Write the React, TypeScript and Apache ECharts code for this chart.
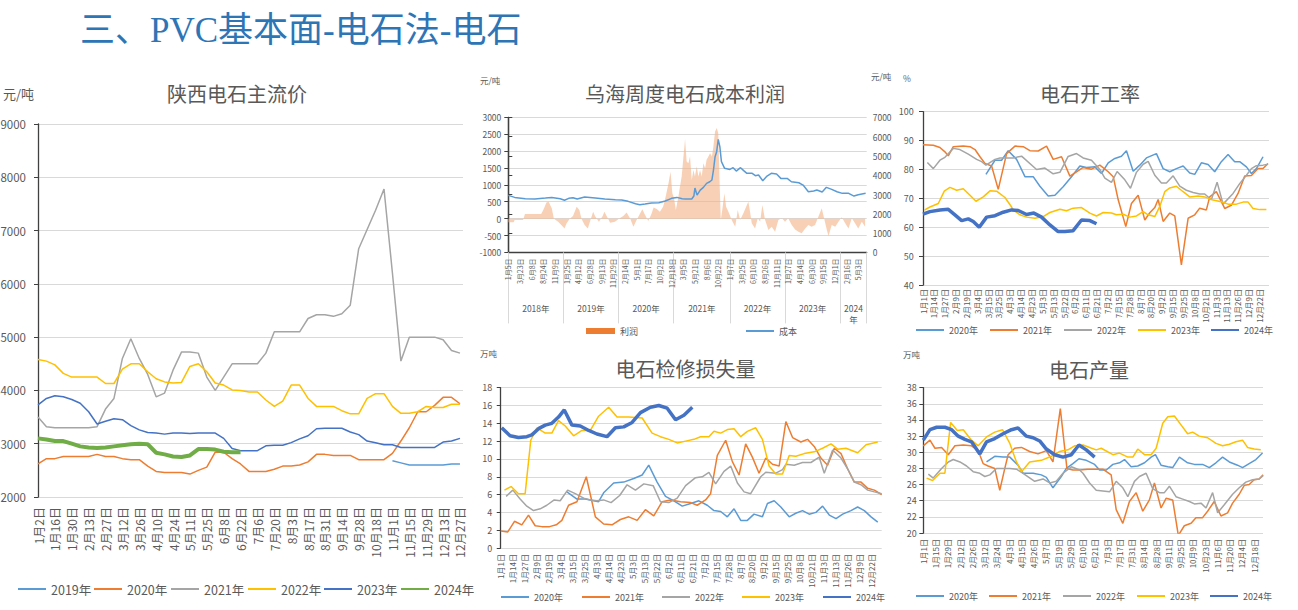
import React, { useEffect, useRef } from 'react';
import * as echarts from 'echarts';

const FONT = "'Noto Sans CJK SC', 'Noto Sans', sans-serif";
const TXT = '#595959';
const GRIDC = '#d9d9d9';
const AXC = '#404040';

const C_LBLUE = '#5b9bd5';
const C_ORANGE = '#ed7d31';
const C_GRAY = '#a5a5a5';
const C_YELLOW = '#ffc000';
const C_BLUE = '#4472c4';
const C_GREEN = '#70ad47';

// ---------- Panel 1: 陕西电石主流价 (values every half label step) ----------
const shaanxiLabels = ['1月2日','1月16日','1月30日','2月13日','2月27日','3月12日','3月26日','4月10日','4月24日','5月11日','5月25日','6月8日','6月22日','7月6日','7月20日','8月3日','8月17日','8月31日','9月14日','9月28日','10月18日','11月1日','11月15日','11月29日','12月13日','12月27日'];
const sx2019 = [null,null,null,null,null,null,null,null,null,null,null,null,null,null,null,null,null,null,null,null,null,null,null,null,null,null,null,null,null,null,null,null,null,null,null,null,null,null,null,null,null,null,2680,2640,2600,2600,2600,2600,2600,2620,2620];
const sx2020 = [2620,2720,2720,2760,2760,2760,2760,2800,2760,2760,2720,2700,2700,2580,2480,2460,2460,2460,2430,2500,2560,2840,2840,2720,2620,2480,2480,2480,2520,2580,2580,2600,2660,2800,2800,2780,2780,2780,2700,2700,2700,2700,2820,3050,3300,3600,3600,3720,3870,3870,3750];
const sx2021 = [3500,3320,3300,3300,3300,3300,3300,3320,3650,3850,4600,4970,4600,4300,3880,3950,4380,4720,4720,4700,4250,4000,4250,4500,4500,4500,4500,4700,5100,5100,5100,5100,5350,5420,5420,5390,5440,5600,6660,7020,7380,7780,6200,4550,5000,5000,5000,5000,4950,4750,4700];
const sx2022 = [4580,4550,4480,4320,4250,4250,4250,4250,4130,4130,4400,4500,4500,4350,4220,4160,4140,4150,4450,4500,4350,4140,4100,4010,4000,3970,3970,3820,3700,3800,4100,4100,3850,3700,3700,3700,3620,3560,3560,3850,3940,3940,3700,3570,3570,3600,3700,3680,3680,3740,3740];
const sx2023 = [3730,3850,3900,3880,3830,3760,3600,3370,3420,3470,3450,3340,3260,3210,3200,3180,3200,3200,3190,3200,3200,3200,3100,2910,2870,2870,2870,2960,2970,2970,3020,3090,3150,3280,3290,3290,3290,3220,3170,3050,3020,2980,2980,2930,2930,2930,2930,2930,3030,3050,3100];
const sx2024 = [3100,3080,3050,3050,3000,2950,2930,2920,2930,2950,2970,2990,3000,2990,2830,2800,2760,2750,2780,2900,2900,2890,2850,2840,2840];

// ---------- Panel 2: 乌海周度电石成本利润 (x = week index from 2018-01-05) ----------
const wuhaiLabels = ['1月5日','3月23日','6月8日','8月24日','11月9日','1月25日','4月12日','6月28日','9月13日','11月29日','2月14日','5月1日','7月17日','10月2日','12月18日','3月5日','5月21日','8月6日','10月22日','1月7日','3月25日','6月10日','8月26日','11月11日','1月27日','4月14日','6月30日','9月15日','12月1日','2月16日','5月3日'];
const wuhaiYears = ['2018年','2019年','2020年','2021年','2022年','2023年','2024\n年'];
const wuhaiYearStart = [0, 52, 104, 156, 209, 261, 313];
const wuhaiLastWeek = 338;
const WEEKS_PER_LABEL = 11;
const wuhaiCost = [[0,2955],[6,2850],[16,2780],[25,2765],[35,2815],[41,2850],[49,2780],[53,2700],[57,2800],[61,2835],[65,2765],[72,2870],[82,2815],[91,2765],[101,2730],[107,2710],[113,2645],[120,2520],[124,2470],[129,2505],[135,2560],[142,2575],[148,2660],[154,2800],[159,2850],[164,2780],[167,2765],[173,2765],[175,2920],[176,3335],[178,2970],[181,3230],[184,3370],[187,3575],[190,3660],[192,3750],[193.5,4270],[195,4960],[196.5,5220],[198,5860],[199.5,5480],[201,4700],[204,4355],[209,4300],[212,4390],[215,4215],[219,4390],[222,4235],[225,4095],[230,4095],[233,3975],[236,4010],[240,3715],[244,3955],[248,4095],[253,4060],[257,3835],[263,3835],[267,3660],[274,3610],[278,3490],[283,3145],[288,3180],[291,3230],[296,3130],[300,3370],[305,3265],[310,3145],[315,3060],[321,3060],[326,2920],[330,2990],[337,3060]];
const wuhaiProfit = [[0,-110],[5,-110],[6,-40],[14,-40],[15.7,140],[31,140],[33,257],[36,474],[38,500],[41,306],[43,0],[47,-90],[50,-190],[53,-290],[55,-140],[58,0],[61,80],[64.5,355],[67,257],[69,0],[72,-190],[75,-290],[77,-90],[80,207],[82,60],[85.5,-90],[89,80],[90.6,207],[93,60],[96,-120],[100.6,-90],[105,10],[108.5,80],[111.6,178],[115,0],[118,-240],[121,-40],[124,140],[126.4,277],[129,110],[132,-70],[135,140],[137,326],[140,287],[143,207],[146,355],[148.4,650],[151,1030],[153,1390],[154.7,750],[156.3,600],[158,257],[160.4,650],[163.5,1245],[166.7,2350],[168.2,1690],[169.8,1640],[171.4,1840],[173,1145],[174.6,1440],[176,1245],[177.7,1540],[179.3,1245],[180.8,1440],[182.4,1245],[184,1640],[185.6,1490],[187,1740],[188.7,1840],[190.3,1935],[192,1840],[193.4,2130],[195,2580],[196.6,2680],[198,2530],[199.1,1245],[200.4,-40],[202,306],[203.8,750],[205.4,355],[207.6,207],[210.7,-40],[214,-240],[216.4,257],[218.6,-40],[221.7,158],[225,405],[226.4,500],[228,207],[229.6,-140],[232.7,-290],[235.3,10],[237.5,-90],[239.6,405],[242.2,-40],[245.3,-340],[248.4,-240],[251.6,-385],[254.7,-40],[258,10],[261,-90],[264,10],[267.3,-190],[270.5,-320],[273.6,-385],[276.7,-435],[280,-290],[283,-190],[286,-240],[289.3,-190],[292.5,60],[295.6,306],[298.2,-40],[300.4,-340],[302,-515],[305,-190],[308.3,-240],[311.4,-90],[314.5,40],[317.7,-140],[320.8,-290],[324,10],[327,-140],[330,-290],[333.4,-90],[336.5,-240]];

// ---------- Panel 3: 电石开工率 (x = label position) ----------
const weeklyLabels = ['1月1日','1月14日','1月27日','2月9日','2月19日','3月4日','3月15日','3月25日','4月3日','4月14日','4月23日','5月3日','5月13日','5月22日','6月2日','6月11日','6月21日','7月2日','7月15日','7月28日','8月7日','8月20日','9月2日','9月15日','9月25日','10月8日','10月21日','11月3日','11月13日','11月26日','12月9日','12月22日'];
const rate2020 = [[5.8,78.3],[6.63,83.2],[7.24,83.2],[7.85,86.5],[8.62,83.5],[9.39,77.5],[10.15,77.5],[10.77,74.2],[11.53,70.8],[12.15,71.1],[12.91,74],[13.68,77.5],[14.45,81.2],[15.06,80.7],[15.83,80.9],[16.44,78.6],[17.06,82.3],[17.67,83.8],[18.28,84.6],[18.74,86.5],[19.36,79.4],[19.97,81.5],[20.58,84],[21.5,85.5],[22.12,80.3],[22.73,79.2],[23.34,80.3],[23.96,81.2],[24.57,78.8],[25.03,78.3],[25.64,82.3],[26.26,81.7],[26.87,79.2],[27.48,82.7],[28.1,85.2],[28.71,82.7],[29.17,82.7],[29.79,80.9],[30.25,78.6],[30.71,80.3],[31.32,84.4]];
const rate2021 = [[0,88.6],[0.95,88.4],[1.56,87.6],[2.02,86.1],[2.33,84.7],[2.79,87.9],[3.71,88.1],[4.33,87.9],[4.79,86.9],[5.25,84.4],[5.71,82.1],[6.32,81.2],[6.93,73.1],[7.7,85.5],[8.47,88.1],[9.23,87.9],[9.85,86.5],[10.61,86.4],[11.38,88.1],[11.99,83.5],[12.76,84.4],[13.53,77.7],[14.14,79.2],[14.75,80.7],[15.52,80.1],[16.29,81.5],[17.06,79.2],[17.52,77.5],[17.98,69.5],[18.68,60.2],[19.2,68.2],[19.82,71.1],[20.43,62.5],[20.89,65],[21.35,66.8],[21.66,69.6],[22.12,62],[22.73,64.9],[23.19,63.9],[23.8,47],[24.42,63.1],[25.03,64.3],[25.49,66.6],[26.1,66],[26.41,70.5],[27.02,72.3],[27.79,66.5],[28.4,67.6],[29.02,71.7],[29.63,77.7],[30.25,77.9],[30.86,80.3],[31.32,80.3],[31.78,82.1]];
const rate2022 = [[0.4,82.4],[0.95,80.3],[1.56,83.2],[2.02,84.2],[2.79,87.3],[3.4,86.9],[4.17,85.3],[4.94,83.5],[5.4,82.7],[5.8,81.5],[6.63,83.5],[7.09,84],[8.31,84],[9.08,84.6],[10.46,80],[11.23,80.5],[11.99,78.5],[12.61,79],[13.37,84.5],[14.14,85.5],[14.75,84],[15.52,83.2],[16.29,80],[16.75,77],[17.36,75.5],[17.88,79.3],[18.59,76.4],[19.11,73.5],[19.66,79],[20.28,81.8],[20.74,82.8],[21.35,78],[21.96,75.3],[22.42,75.3],[23.04,77.8],[23.65,74.2],[24.26,72.8],[24.88,72],[25.49,71.5],[25.95,71.5],[26.56,69.5],[27.09,75.6],[27.64,68],[28.56,71.7],[29.17,75.1],[29.79,78],[30.25,80.3],[30.71,81.3],[31.32,81.5],[31.78,81.8]];
const rate2023 = [[0.12,65.9],[0.64,67],[1.41,68.2],[1.96,72.5],[2.48,73.8],[3.1,72.8],[3.71,73.3],[4.33,71.1],[4.88,69],[5.55,70.5],[6.17,72.6],[6.78,72.5],[7.55,70.3],[8.16,67],[8.31,66],[8.93,64.3],[9.54,63.5],[10.31,63.1],[11.07,63.7],[11.69,65.1],[12.61,66.2],[13.22,65.7],[13.83,66.6],[14.6,66.8],[15.37,64.9],[15.98,63.9],[16.6,65.1],[17.36,64.9],[17.82,64.3],[18.44,64.5],[19.05,63.5],[19.66,63.9],[20.28,65.4],[20.74,64.3],[21.35,63.7],[21.81,67.2],[22.27,72.3],[22.73,73.6],[23.34,74.2],[23.96,72.3],[24.57,70.5],[25.34,70.8],[25.95,70.5],[26.72,69.4],[27.48,68.8],[28.1,68],[28.87,68],[29.48,68.7],[29.94,68.7],[30.4,66.5],[31.01,66.1],[31.63,66.1]];
const rate2024 = [[0,64.5],[0.64,65.4],[1.56,66],[2.33,66.2],[2.94,64.3],[3.56,62.3],[4.17,62.9],[4.63,62],[5.18,60],[5.86,63.5],[6.63,64],[7.39,65.2],[8.16,66],[8.77,65.8],[9.54,64.4],[10.21,64.9],[10.92,63.5],[11.69,60.8],[12.45,58.5],[13.07,58.5],[13.83,58.8],[14.6,62.5],[15.37,62.3],[15.98,61.2]];

// ---------- Panel 4: 电石检修损失量 ----------
const loss2020 = [[5.53,6.3],[6.37,5.5],[7.07,5.5],[7.77,5.3],[8.18,5.2],[8.6,6.2],[9.44,7.3],[10.28,7.4],[11.12,7.8],[11.82,8.2],[12.37,9.3],[13.07,7.4],[13.77,5.8],[14.47,5.3],[15.17,4.7],[15.87,5.0],[16.56,5.3],[17.26,4.8],[17.82,4.2],[18.38,4.1],[18.94,3.5],[19.5,4.4],[20.06,3.1],[20.61,3.1],[21.17,3.8],[21.87,3.5],[22.29,5.0],[22.85,5.3],[23.41,4.6],[24.11,3.5],[24.66,3.9],[25.22,4.2],[25.78,3.8],[26.34,4.0],[26.9,4.7],[27.46,3.7],[28.02,3.3],[28.58,3.8],[29.27,4.2],[29.83,4.6],[30.39,4.2],[30.95,3.5],[31.51,2.9]];
const loss2021 = [[0,1.9],[0.59,1.8],[1.15,3.0],[1.76,2.6],[2.32,3.7],[2.88,2.5],[3.44,2.4],[4.08,2.4],[4.64,2.6],[5.11,3.1],[5.67,4.8],[6.37,5.2],[7.15,8.0],[7.91,3.5],[8.6,2.7],[9.3,2.6],[10,3.2],[10.7,3.5],[11.4,3.1],[12.09,4.3],[12.79,3.6],[13.49,5.2],[14.19,5.4],[15.03,5.2],[15.87,5.1],[16.42,4.8],[17.12,5.4],[17.54,6.1],[18.1,10.4],[18.8,12.1],[19.36,9.7],[19.92,8.2],[20.47,11.7],[21.03,10.2],[21.59,8.4],[22.15,10.1],[22.71,9.4],[23.27,9.2],[23.83,14.2],[24.39,12.4],[25.08,11.9],[25.64,12.2],[26.2,11.4],[26.76,10.1],[27.32,9.3],[27.88,11.2],[28.44,10.6],[28.99,8.9],[29.55,7.4],[30.11,7.4],[30.67,6.7],[31.23,6.5],[31.84,6.0]];
const loss2022 = [[0.45,5.8],[1.01,6.5],[1.62,5.5],[2.18,4.7],[2.74,4.2],[3.3,4.4],[3.85,4.8],[4.47,5.4],[4.97,5.3],[5.59,6.5],[6.23,6.1],[6.93,5.6],[7.49,5.4],[8.04,5.3],[8.6,5.4],[9.22,5.1],[9.94,5.9],[10.56,7.1],[11.26,6.5],[11.96,7.2],[12.74,7.0],[13.35,5.2],[14.05,5.1],[14.75,5.6],[15.45,7.0],[16.28,7.9],[16.84,8.0],[17.4,8.5],[17.96,7.2],[18.66,8.6],[19.22,9.2],[19.78,7.3],[20.34,6.3],[20.89,6.1],[21.73,8.0],[22.15,8.5],[22.99,8.4],[23.55,8.8],[23.83,9.4],[24.53,9.3],[25.22,9.6],[25.92,9.6],[26.62,10.2],[27.04,8.4],[27.74,11.0],[28.44,10.1],[28.99,8.9],[29.55,7.4],[30.11,7.1],[30.67,6.5],[31.23,6.3],[31.84,6.1]];
const loss2023 = [[0.31,6.5],[0.87,6.9],[1.48,6.1],[2.04,6.1],[2.51,12.1],[3.02,13.5],[3.72,12.9],[4.27,12.9],[4.83,14.3],[5.39,13.7],[6.09,12.6],[6.79,13.2],[7.49,13.2],[8.18,14.8],[9.02,15.8],[9.72,14.7],[10.7,14.7],[11.82,14.6],[12.65,12.9],[13.35,12.5],[14.05,12.2],[14.75,11.8],[15.45,12.0],[16.15,12.2],[16.7,12.5],[17.4,12.5],[17.82,13.1],[18.38,12.9],[18.94,13.3],[19.5,13.4],[20.06,12.5],[20.61,13.1],[21.31,13.5],[21.87,12.2],[22.43,9.2],[22.99,8.3],[23.55,8.3],[24.11,10.4],[24.66,10.3],[25.36,10.6],[26.2,10.8],[26.9,11.2],[27.6,11.7],[28.16,11.1],[28.85,11.2],[29.83,10.7],[30.53,11.6],[31.51,11.9]];
const loss2024 = [[0.08,13.5],[0.78,12.6],[1.48,12.4],[2.18,12.5],[2.6,12.7],[3.16,13.4],[3.72,13.8],[4.27,14.0],[4.83,14.7],[5.31,15.5],[5.95,13.8],[6.65,13.7],[7.35,13.2],[8.04,12.8],[8.88,12.5],[9.58,13.5],[10.28,13.6],[10.98,14.1],[11.68,15.2],[12.51,15.8],[13.21,16.0],[13.91,15.7],[14.61,14.4],[15.31,14.9],[16.01,15.8]];

// ---------- Panel 5: 电石产量 ----------
const outputLabels = ['1月1日','1月15日','1月29日','2月12日','2月26日','3月12日','3月24日','4月3日','4月15日','4月26日','5月7日','5月19日','5月29日','6月10日','6月21日','7月3日','7月17日','7月31日','8月14日','8月28日','9月11日','9月25日','10月9日','10月23日','11月6日','11月20日','12月4日','12月18日'];
const out2020 = [[5.16,28.8],[5.83,29.5],[6.51,29.4],[7.06,29.4],[7.73,28.4],[8.14,27.4],[8.96,27.4],[9.63,27.2],[10.04,26.9],[10.58,25.6],[11.26,27.0],[11.67,28.0],[12.21,28.6],[12.7,29.2],[13.3,29.0],[13.98,28.5],[14.38,27.8],[14.93,27.8],[15.47,28.5],[16.01,28.7],[16.42,29.1],[16.96,28.2],[17.5,28.3],[18.05,28.7],[18.59,29.4],[18.94,29.7],[19.4,28.4],[19.95,28.2],[20.35,28.1],[20.9,29.4],[21.57,28.7],[22.12,28.5],[22.79,28.5],[23.34,28.1],[23.88,28.7],[24.42,29.4],[24.97,28.8],[25.64,28.4],[26.05,28.1],[26.59,28.6],[27.14,29.1],[27.68,29.9]];
const out2021 = [[0,30.8],[0.54,31.5],[0.95,30.5],[1.49,30.6],[2.04,29.7],[2.58,30.8],[3.26,30.9],[3.93,30.8],[4.48,30.2],[4.88,28.6],[5.29,28.3],[5.83,28.0],[6.24,25.3],[6.65,28.0],[6.92,29.7],[7.46,30.5],[8.01,30.6],[8.68,30.1],[9.36,29.8],[10.04,30.2],[10.58,28.8],[11.18,35.4],[11.72,28.0],[12.21,27.8],[12.75,27.8],[13.43,27.9],[14.11,27.9],[14.65,27.9],[15.33,27.2],[15.74,22.9],[16.28,21.2],[16.82,23.9],[17.37,25.0],[17.91,22.7],[18.45,24.1],[18.86,26.2],[19.4,23.1],[19.81,24.3],[20.35,24.1],[20.81,19.7],[21.3,20.9],[21.85,21.2],[22.25,21.9],[22.79,21.9],[23.2,22.7],[23.74,23.9],[24.29,22.1],[24.83,22.5],[25.24,23.7],[25.78,24.8],[26.19,25.9],[26.59,26.0],[27.0,26.6],[27.41,26.7],[27.73,27.2]];
const out2022 = [[0.41,27.3],[0.81,26.8],[1.49,28.0],[2.04,28.8],[2.44,29.1],[2.99,28.8],[3.53,28.3],[4.07,27.6],[4.61,27.4],[5.02,27.0],[5.43,27.2],[5.97,28.0],[7.06,28.0],[7.6,27.9],[8.14,27.4],[9.09,26.4],[9.77,26.7],[10.31,26.2],[10.85,26.4],[11.4,27.4],[12.08,28.2],[12.75,27.8],[13.03,27.4],[13.57,26.2],[14.11,25.3],[14.65,25.2],[15.2,25.1],[15.74,26.4],[16.28,25.6],[16.69,24.5],[17.23,26.4],[17.64,27.0],[18.18,27.4],[18.72,25.5],[19.27,25.0],[19.67,25.0],[20.08,25.8],[20.62,24.5],[21.17,24.2],[21.71,23.9],[22.12,23.6],[22.66,23.7],[23.07,23.1],[23.61,25.0],[24.02,22.5],[24.56,23.5],[25.24,24.8],[25.78,25.6],[26.32,26.3],[26.87,26.6],[27.41,26.7],[27.73,27.1]];
const out2023 = [[0.27,26.8],[0.76,26.5],[1.36,27.4],[1.76,27.4],[2.23,33.7],[2.77,32.7],[3.26,32.8],[3.93,31.5],[4.48,30.8],[5.16,31.9],[5.83,32.5],[6.46,32.8],[7.06,31.1],[7.6,28.8],[8.01,27.6],[8.68,28.8],[9.63,29.0],[10.45,29.5],[11.13,30.1],[11.8,30.3],[12.35,30.8],[13.03,30.9],[13.57,30.6],[14.11,30.3],[14.52,30.5],[15.47,29.7],[16.01,29.9],[16.69,29.4],[17.1,29.4],[17.5,30.4],[18.05,29.7],[18.59,29.7],[19.0,30.5],[19.54,33.6],[19.95,34.4],[20.49,34.5],[21.03,33.4],[21.57,32.3],[21.98,32.5],[22.52,32.0],[23.2,31.8],[23.88,31.1],[24.42,30.8],[24.97,31.0],[25.51,31.3],[26.05,31.5],[26.46,30.6],[27.0,30.4],[27.54,30.3]];
const out2024 = [[0,31.5],[0.54,32.8],[1.09,33.1],[1.76,33.1],[2.31,32.8],[2.85,32.0],[3.39,31.6],[3.93,31.3],[4.61,29.8],[5.16,31.3],[5.83,31.7],[6.51,32.3],[7.19,32.8],[7.73,33.0],[8.41,32.0],[8.96,31.8],[9.5,31.4],[10.04,30.4],[10.72,29.7],[11.4,29.4],[12.08,29.7],[12.7,30.9],[13.3,30.3],[13.98,29.4]];

const seriesYears5 = ['2020年','2021年','2022年','2023年','2024年'];
const seriesYears6 = ['2019年','2020年','2021年','2022年','2023年','2024年'];

function halfStep(arr: (number | null)[]) {
  const out: number[][] = [];
  arr.forEach((v, i) => { if (v != null) out.push([i / 2, v]); });
  return out;
}

function lineSeries(name: string, data: number[][], color: string, width: number, xi: number, yi: number) {
  return {
    type: 'line', name, data, xAxisIndex: xi, yAxisIndex: yi, symbol: 'none', showSymbol: false,
    lineStyle: { color, width }, itemStyle: { color }, animation: false,
  };
}

function stripName(n: string) { return n.split('|')[0]; }

function legendItem(name: string, left: number, cy: number, fontSize: number, extra: any = {}) {
  const lh = Math.round(fontSize * 1.4);
  return {
    data: [name], left, top: cy - lh / 2, padding: 0, itemWidth: 28, itemHeight: 10, itemGap: 0,
    selectedMode: false, formatter: stripName,
    itemStyle: { opacity: 0, color: 'transparent', borderColor: 'transparent', borderWidth: 0 },
    textStyle: { color: TXT, fontSize, fontFamily: FONT, lineHeight: lh },
    ...extra,
  };
}

function txt(text: string, x: number, y: number, size: number, align = 'left', color = TXT, family = FONT) {
  return {
    type: 'text', x, y, silent: true,
    style: { text, fill: color, fontSize: size, fontFamily: family, align, textAlign: align, verticalAlign: 'middle', textVerticalAlign: 'middle' },
  };
}

function yAx(grid: number, min: number, max: number, interval: number, fontSize: number, margin: number, extra: any = {}) {
  return {
    type: 'value', gridIndex: grid, min, max, interval,
    axisLine: { show: true, lineStyle: { color: AXC, width: 1.3 } },
    axisTick: { show: true, length: 4, lineStyle: { color: AXC } },
    splitLine: { show: true, lineStyle: { color: GRIDC, width: 1 } },
    axisLabel: { color: TXT, fontSize, margin, fontFamily: FONT, formatter: (v: number) => String(v) },
    ...extra,
  };
}

function xAx(grid: number, min: number, max: number, labels: string[], step: number, fontSize: number, margin: number, extra: any = {}) {
  const vals = labels.map((_, i) => i * step);
  return {
    type: 'value', gridIndex: grid, min, max,
    axisLine: { show: false, onZero: false },
    axisTick: { show: false },
    splitLine: { show: false },
    axisLabel: {
      customValues: vals, rotate: 90, color: TXT, fontSize, margin, fontFamily: FONT,
      formatter: (v: number) => labels[Math.round(v / step)] ?? '',
    },
    ...extra,
  };
}

export default function App() {
  const ref = useRef<HTMLDivElement>(null);
  useEffect(() => {
    if (!ref.current) return;
    const chart = echarts.init(ref.current, undefined, { renderer: 'svg' });

    const yearMid = wuhaiYearStart.map((s, i) => (s + (i + 1 < wuhaiYearStart.length ? wuhaiYearStart[i + 1] : wuhaiLastWeek)) / 2);

    const sxData = [sx2019, sx2020, sx2021, sx2022, sx2023, sx2024];
    const sxColors = [C_LBLUE, C_ORANGE, C_GRAY, C_YELLOW, C_BLUE, C_GREEN];
    const c5 = [C_LBLUE, C_ORANGE, C_GRAY, C_YELLOW, C_BLUE];
    const rateData = [rate2020, rate2021, rate2022, rate2023, rate2024];
    const lossData = [loss2020, loss2021, loss2022, loss2023, loss2024];
    const outData = [out2020, out2021, out2022, out2023, out2024];

    const series: any[] = [];
    seriesYears6.forEach((y, i) => series.push(lineSeries(y + '|a', halfStep(sxData[i]), sxColors[i], i === 5 ? 4 : 1.5, 0, 0)));
    series.push({
      type: 'line', name: '利润', data: wuhaiProfit, xAxisIndex: 1, yAxisIndex: 1, symbol: 'none', showSymbol: false,
      itemStyle: { color: C_ORANGE }, lineStyle: { width: 0, color: C_ORANGE },
      areaStyle: { color: '#f4b183', opacity: 0.6 },
    });
    series.push(lineSeries('成本', wuhaiCost, C_LBLUE, 1.5, 1, 2));
    seriesYears5.forEach((y, i) => series.push(lineSeries(y + '|c', rateData[i], c5[i], i === 4 ? 3.5 : 1.5, 3, 3)));
    seriesYears5.forEach((y, i) => series.push(lineSeries(y + '|d', lossData[i], c5[i], i === 4 ? 3.5 : 1.5, 4, 4)));
    seriesYears5.forEach((y, i) => series.push(lineSeries(y + '|e', outData[i], c5[i], i === 4 ? 3.5 : 1.5, 5, 5)));

    const legends: any[] = [];
    const leftL = [17, 93, 170, 247, 323, 400];
    seriesYears6.forEach((y, i) => legends.push(legendItem(y + '|a', leftL[i], 589, 12.5)));
    legends.push(legendItem('利润', 586, 331, 9, {
      data: [{ name: '利润', icon: 'rect', itemStyle: { color: C_ORANGE, opacity: 1 } }], itemWidth: 29, itemHeight: 6,
    }));
    legends.push(legendItem('成本', 745, 331, 9));
    const trL = [915, 989, 1063, 1137, 1210];
    seriesYears5.forEach((y, i) => legends.push(legendItem(y + '|c', trL[i], 330, 9)));
    const bmL = [500, 581, 661, 741, 822];
    seriesYears5.forEach((y, i) => legends.push(legendItem(y + '|d', bmL[i], 597, 9)));
    const brL = [915, 988, 1062, 1136, 1209];
    seriesYears5.forEach((y, i) => legends.push(legendItem(y + '|e', brL[i], 596, 9)));

    const option: any = {
      animation: false,
      textStyle: { fontFamily: FONT },
      grid: [
        { left: 38, top: 124, width: 425, height: 373, outerBoundsMode: 'none' },
        { left: 508.3, top: 117.3, width: 358.4, height: 135.1, outerBoundsMode: 'none' },
        { left: 921.7, top: 111.7, width: 347.3, height: 173.3, outerBoundsMode: 'none' },
        { left: 499.3, top: 387.7, width: 382.4, height: 160.3, outerBoundsMode: 'none' },
        { left: 922.7, top: 387.7, width: 340.3, height: 145.3, outerBoundsMode: 'none' },
      ],
      xAxis: [
        xAx(0, 0, 25.18, shaanxiLabels, 1, 12, 10),
        xAx(1, 0, wuhaiLastWeek, wuhaiLabels, WEEKS_PER_LABEL, 7, 6, {
          axisLine: { show: true, onZero: false, lineStyle: { color: AXC, width: 1.3 } },
        }),
        {
          type: 'value', gridIndex: 1, min: 0, max: wuhaiLastWeek, position: 'bottom', offset: 71,
          axisLine: { show: false, onZero: false },
          splitLine: { show: false },
          axisTick: { show: true, inside: true, length: 71, customValues: [...wuhaiYearStart, wuhaiLastWeek], lineStyle: { color: GRIDC } },
          axisLabel: {
            customValues: yearMid, inside: true, margin: 21, verticalAlign: 'top', color: TXT, fontSize: 8.5, lineHeight: 11, fontFamily: FONT,
            formatter: (v: number) => { const i = yearMid.findIndex((m) => Math.abs(m - v) < 0.01); return i >= 0 ? wuhaiYears[i] : ''; },
          },
        },
        xAx(2, -0.12, 31.87, weeklyLabels, 1, 8, 4),
        xAx(3, -0.12, 31.84, weeklyLabels, 1, 8, 6),
        xAx(4, -0.05, 27.72, outputLabels, 1, 8, 6),
      ],
      yAxis: [
        yAx(0, 2000, 9000, 1000, 11.5, 12),
        yAx(1, -1000, 3000, 500, 8.5, 7),
        yAx(1, 0, 7000, 1000, 8.5, 6, { position: 'right', splitLine: { show: false } }),
        yAx(2, 40, 100, 10, 9, 8),
        yAx(3, 0, 18, 2, 9, 7),
        yAx(4, 20, 38, 2, 9, 6),
      ],
      legend: legends,
      series,
      graphic: [
        txt('三、PVC基本面-电石法-电石', 80, 30, 35, 'left', '#2e75b6', "'Liberation Serif', 'Noto Sans CJK SC', serif"),
        txt('元/吨', 3, 93, 13),
        txt('陕西电石主流价', 237, 93, 20, 'center'),
        txt('元/吨', 480, 80, 8.5),
        txt('元/吨', 871, 76, 8.5),
        txt('乌海周度电石成本利润', 685, 93, 20, 'center'),
        txt('%', 903, 78, 8.5),
        txt('电石开工率', 1090, 93, 20, 'center'),
        txt('万吨', 480, 353, 8.5),
        txt('电石检修损失量', 685.5, 368, 20, 'center'),
        txt('万吨', 903, 354, 8.5),
        txt('电石产量', 1089, 369, 20, 'center'),
      ],
    };
    chart.setOption(option);
    return () => chart.dispose();
  }, []);
  return <div ref={ref} style={{ position: 'absolute', left: 0, top: 0, width: 1298, height: 610, background: '#fff' }} />;
}
